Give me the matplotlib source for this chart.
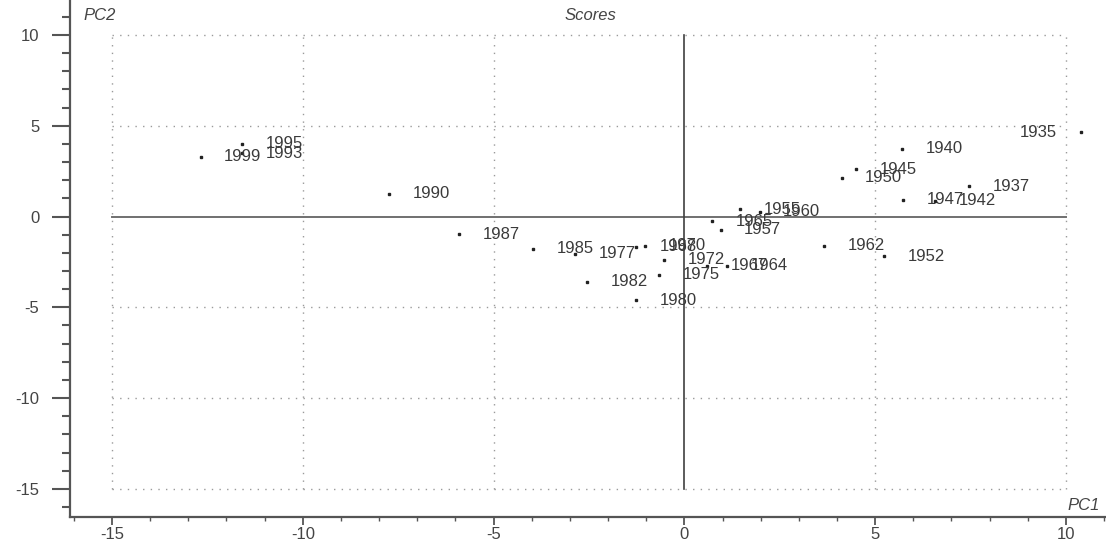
import matplotlib
matplotlib.use('Agg')
import matplotlib.pyplot as plt
from matplotlib.ticker import MultipleLocator

plt.rcParams['font.family'] = ['Liberation Sans', 'DejaVu Sans']
plt.rcParams['axes.unicode_minus'] = False

# scores
years = ['1935', '1937', '1940', '1942', '1945', '1947', '1950', '1952',
         '1955', '1957', '1960', '1962', '1964', '1965', '1967', '1968',
         '1970', '1972', '1975', '1977', '1980', '1982', '1985', '1987',
         '1990', '1993', '1995', '1999']
pc1 = [10.39, 7.46, 5.71, 6.57, 4.50, 5.73, 4.12, 5.24,
       1.47, 0.95, 1.97, 3.67, 1.13, 0.73, 0.60, -1.27,
       -1.03, -0.53, -0.66, -2.86, -1.27, -2.56, -3.96, -5.90,
       -7.73, -11.60, -11.60, -12.68]
pc2 = [4.64, 1.68, 3.74, 0.88, 2.62, 0.92, 2.13, -2.19,
       0.39, -0.72, 0.26, -1.60, -2.71, -0.25, -2.71, -1.66,
       -1.60, -2.39, -3.20, -2.06, -4.60, -3.59, -1.77, -0.96,
       1.27, 3.50, 4.00, 3.30]

grid_at = [-15, -10, -5, 5, 10]
xticks = [-15, -10, -5, 0, 5, 10]
yticks = [-15, -10, -5, 0, 5, 10]

fig = plt.figure(figsize=(11.06, 5.44), dpi=100)
ax = fig.add_axes([0.0633, 0.0496, 0.9367, 0.9504])
ax.set_xlim(-16.1, 11.05)
ax.set_ylim(-16.55, 11.93)

grey = '#555555'
dot_style = dict(color='#9a9a9a', linestyle=(0, (1, 4.5)), linewidth=1.0)
for g in grid_at:
    ax.plot([g, g], [-15, 10], **dot_style)
    ax.plot([-15, 10], [g, g], **dot_style)
ax.plot([-15, 10], [0, 0], color='#707070', linewidth=1.4)
ax.plot([0, 0], [-15, 10], color='#404040', linewidth=1.2)

ax.plot(pc1, pc2, linestyle='none', marker='s', markersize=1.8,
        color='#222222')
for yr, x, y in zip(years, pc1, pc2):
    if x > 9:
        ax.annotate(yr, (x, y), xytext=(-17, 0), textcoords='offset points',
                    ha='right', va='center', fontsize=12, color='#3a3a3a')
    else:
        ax.annotate(yr, (x, y), xytext=(17, 0), textcoords='offset points',
                    ha='left', va='center', fontsize=12, color='#3a3a3a')

for s in ['top', 'right']:
    ax.spines[s].set_visible(False)
for s in ['left', 'bottom']:
    ax.spines[s].set_color(grey)
    ax.spines[s].set_linewidth(1.6)

ax.set_xticks(xticks)
ax.set_yticks(yticks)
ax.xaxis.set_minor_locator(MultipleLocator(1))
ax.yaxis.set_minor_locator(MultipleLocator(1))
ax.tick_params(axis='y', which='major', length=13, width=1.5, color=grey,
               labelsize=12, labelcolor='#444444', pad=9)
ax.tick_params(axis='y', which='minor', length=6, width=1.5, color=grey)
ax.tick_params(axis='x', which='major', length=6, width=1.3, color=grey,
               labelsize=12, labelcolor='#444444', pad=1)
ax.tick_params(axis='x', which='minor', length=3, width=1.0, color=grey)

fig.text(83 / 1106, 1 - 15 / 544, 'PC2', style='italic', fontsize=12,
         color='#444444', ha='left', va='center')
fig.text(590 / 1106, 1 - 15 / 544, 'Scores', style='italic', fontsize=12,
         color='#444444', ha='center', va='center')
fig.text(1100 / 1106, 1 - 506 / 544, 'PC1', style='italic', fontsize=12,
         color='#444444', ha='right', va='center')

fig.savefig('out.png', dpi=100)
